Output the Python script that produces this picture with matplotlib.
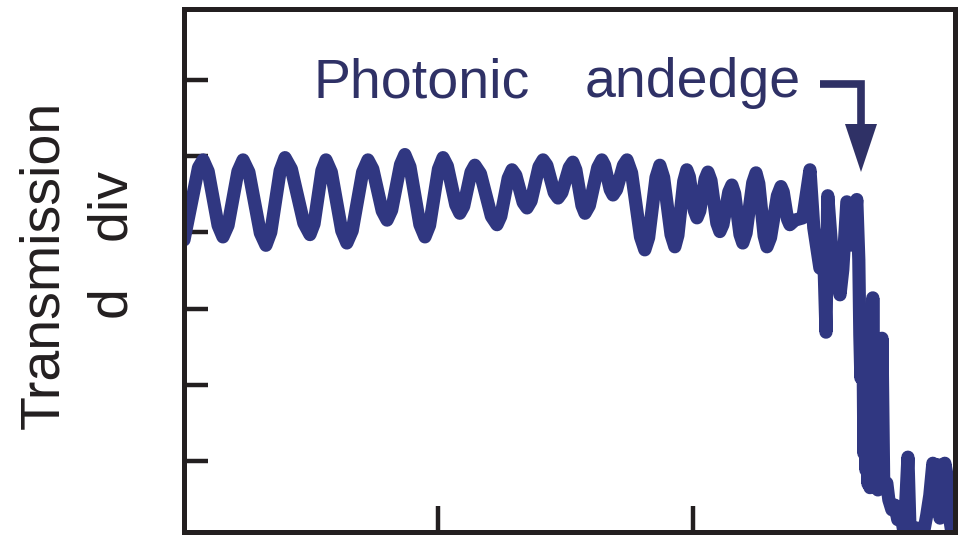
import matplotlib
matplotlib.use("Agg")
import matplotlib.pyplot as plt
from matplotlib.patches import Polygon
from matplotlib.lines import Line2D

# ---- data ----
wavelength = [0.000, 0.057, 0.075, 0.095, 0.134, 0.153, 0.173, 0.212, 0.232, 0.255,
              0.300, 0.322, 0.341, 0.378, 0.397, 0.422, 0.471, 0.495, 0.511, 0.542,
              0.558, 0.579, 0.620, 0.640, 0.661, 0.702, 0.723, 0.742, 0.779, 0.798,
              0.816, 0.851, 0.868, 0.888, 0.927, 0.947, 0.965, 1.000, 1.018, 1.035,
              1.068, 1.084, 1.099, 1.128, 1.143, 1.165, 1.208, 1.230, 1.245, 1.274,
              1.289, 1.304, 1.333, 1.348, 1.364, 1.395, 1.411, 1.426, 1.455, 1.470,
              1.485, 1.514, 1.528, 1.540, 1.564, 1.576, 1.593, 1.626, 1.642, 1.653,
              1.675, 1.686, 1.700, 1.727, 1.741, 1.759, 1.794, 1.811, 1.826, 1.855,
              1.870, 1.885, 1.914, 1.929, 1.941, 1.964, 1.976, 1.986, 2.006, 2.016,
              2.027, 2.048, 2.059, 2.071, 2.094, 2.106, 2.118, 2.141, 2.153, 2.164,
              2.185, 2.196, 2.209, 2.235, 2.248, 2.259, 2.280, 2.291, 2.305, 2.332,
              2.346, 2.355, 2.372, 2.381,
              2.401, 2.432, 2.460, 2.475, 2.499, 2.515, 2.523, 2.530, 2.546, 2.562,
              2.578, 2.589, 2.605, 2.617, 2.629, 2.644, 2.652, 2.656, 2.660, 2.668,
              2.672, 2.676, 2.680, 2.684, 2.688, 2.692, 2.696, 2.699, 2.703, 2.707,
              2.711, 2.715, 2.719, 2.723, 2.727, 2.731, 2.735, 2.739, 2.743,
              2.750, 2.762, 2.770, 2.782, 2.794, 2.805, 2.817, 2.829, 2.837, 2.845,
              2.853, 2.864, 2.880, 2.892, 2.908, 2.919, 2.931, 2.943, 2.955, 2.963,
              2.971, 2.978, 2.990, 3.002, 3.010, 3.022]
transmission = [3.90, 4.85, 4.95, 4.80, 4.09, 3.94, 4.09, 4.80, 4.95, 4.79,
                3.99, 3.83, 4.00, 4.81, 4.98, 4.83, 4.12, 3.97, 4.11, 4.81,
                4.95, 4.79, 4.02, 3.86, 4.02, 4.79, 4.95, 4.83, 4.28, 4.16,
                4.29, 4.89, 5.02, 4.86, 4.10, 3.94, 4.09, 4.83, 4.98, 4.87,
                4.36, 4.25, 4.34, 4.79, 4.88, 4.77, 4.21, 4.10, 4.21, 4.71,
                4.82, 4.75, 4.39, 4.32, 4.41, 4.86, 4.95, 4.88, 4.52, 4.45,
                4.52, 4.85, 4.92, 4.82, 4.35, 4.25, 4.35, 4.85, 4.95, 4.88,
                4.56, 4.49, 4.56, 4.88, 4.95, 4.78, 3.94, 3.77, 3.93, 4.72,
                4.88, 4.72, 3.97, 3.81, 3.96, 4.67, 4.82, 4.73, 4.28, 4.19,
                4.28, 4.70, 4.79, 4.68, 4.12, 4.01, 4.10, 4.53, 4.62, 4.51,
                3.97, 3.86, 3.99, 4.65, 4.78, 4.64, 3.95, 3.81, 3.93, 4.48,
                4.60, 4.53, 4.17, 4.10,
                4.16, 4.19, 4.82, 4.06, 3.53, 3.61, 2.69, 4.48, 3.77, 3.51,
                3.18, 3.51, 4.40, 4.36, 3.83, 4.43, 3.64, 2.65, 2.09, 2.72,
                1.10, 2.40, 0.88, 2.30, 0.70, 2.20, 0.65, 2.00, 0.80, 3.14,
                0.75, 2.00, 0.70, 1.90, 0.62, 1.80, 0.80, 1.70, 2.61,
                0.65, 0.71, 0.49, 0.36, 0.42, 0.23, 0.32, 0.07, 0.49, 1.05,
                0.12, -0.04, 0.12, -0.04, 0.09, 0.29, 0.55, 0.97, 0.75, 0.95,
                0.25, 0.49, 0.97, 0.75, 0.23, -0.04]
x_ticks = [1, 2]
y_ticks = [1, 2, 3, 4, 5, 6]
ylabel_line1 = "Transmission"
ylabel_line2 = "d   div"
annot_word1 = "Photonic"
annot_word2 = "andedge"

LINE_COLOR = "#303781"
TEXT_COLOR = "#2f3166"
AXIS_COLOR = "#231f20"

W, H = 966, 537
fig = plt.figure(figsize=(W / 100, H / 100), dpi=100)
plt.rcParams['font.family'] = ['Liberation Sans', 'DejaVu Sans']

ax = fig.add_axes([184 / W, 1 - 532 / H, (955 - 184) / W, (532 - 9) / H])
ax.plot(wavelength, transmission, color=LINE_COLOR, lw=9.5,
        solid_joinstyle='round', solid_capstyle='round')

ax.set_xlim(0, 3.03)
ax.set_ylim(0.068, 6.93)
ax.set_xticks(x_ticks)
ax.set_yticks(y_ticks)
ax.set_xticklabels([])
ax.set_yticklabels([])
ax.tick_params(axis='both', direction='in', color=AXIS_COLOR, width=3.2)
ax.tick_params(axis='y', length=17)
ax.tick_params(axis='x', length=19)
for s in ax.spines.values():
    s.set_linewidth(3.6)
    s.set_color(AXIS_COLOR)

# y label (two lines, drawn as separate texts)
fig.text(44 / W, 1 - 265 / H, ylabel_line1, rotation=90, ha='center', va='center',
         fontsize=40, color=AXIS_COLOR)
fig.text(114 / W, 1 - 245 / H, ylabel_line2, rotation=90, ha='center', va='center',
         fontsize=40, color=AXIS_COLOR)

# annotation text
fig.text(313 / W, 1 - 97 / H, annot_word1, ha='left', va='baseline',
         fontsize=40, color=TEXT_COLOR)
fig.text(585 / W, 1 - 97 / H, annot_word2, ha='left', va='baseline',
         fontsize=40, color=TEXT_COLOR)

# bent arrow
fig.add_artist(Line2D([820 / W, 861 / W, 861 / W],
                      [1 - 84 / H, 1 - 84 / H, 1 - 128 / H],
                      color=TEXT_COLOR, lw=5.5, solid_joinstyle='miter',
                      solid_capstyle='butt'))
fig.add_artist(Polygon([[845 / W, 1 - 124 / H], [877 / W, 1 - 124 / H],
                        [861 / W, 1 - 172 / H]], closed=True,
                       facecolor=TEXT_COLOR, edgecolor='none',
                       transform=fig.transFigure))

fig.savefig("out.png", dpi=100)
